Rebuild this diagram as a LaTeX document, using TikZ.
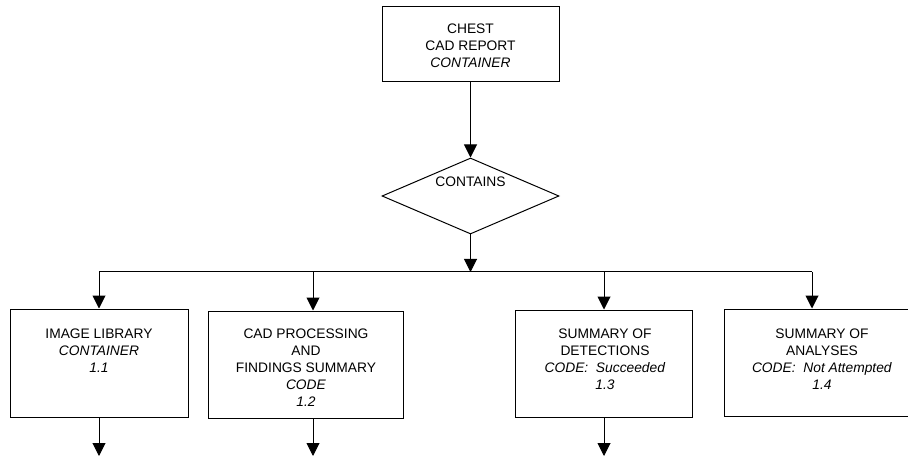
\documentclass[tikz,border=0pt]{standalone}
\usepackage{fontspec}
\setmainfont{Liberation Sans}
\usetikzlibrary{arrows.meta,shapes.geometric}
\begin{document}
\begin{tikzpicture}[x=1pt,y=-1pt,line width=1pt,
  box/.style={draw,rectangle,inner sep=0pt},
  txt/.style={align=center,inner sep=0pt,anchor=north,font=\fontsize{13.8}{17}\selectfont},
  arr/.style={-{Triangle[width=13pt,length=13pt]}}]
\useasboundingbox (0,0) rectangle (908,457);
\clip (0,0) rectangle (908,457);
% top box
\node[box,minimum width=177pt,minimum height=75pt] (top) at (470.5,44.5) {};
\node[txt] (toptxt) at (470.5,23) {CHEST\\CAD REPORT\\\textit{CONTAINER}};
% diamond
\node[draw,diamond,inner sep=0pt,minimum width=177pt,minimum height=76pt] (dia) at (470.5,196) {};
\node[txt] (diatxt) at (470.5,176) {CONTAINS};
% boxes
\node[box,minimum width=178pt,minimum height=108pt] (b1) at (99,363) {};
\node[box,minimum width=195pt,minimum height=107pt] (b2) at (305.5,364.5) {};
\node[box,minimum width=177pt,minimum height=107pt] (b3) at (603.5,363.5) {};
\node[box,minimum width=196pt,minimum height=107pt] (b4) at (822,362.5) {};
\node[txt] (t1) at (99,328) {IMAGE LIBRARY\\\textit{CONTAINER}\\\textit{1.1}};
\node[txt] (t2) at (306,328) {CAD PROCESSING\\AND\\FINDINGS SUMMARY\\\textit{CODE}\\\textit{1.2}};
\node[txt] (t3) at (605,328) {SUMMARY OF\\DETECTIONS\\\textit{CODE:\ \ Succeeded}\\\textit{1.3}};
\node[txt] (t4) at (822,328) {SUMMARY OF\\ANALYSES\\\textit{CODE:\ \ Not Attempted}\\\textit{1.4}};
% bar coordinates
\coordinate (j1) at (99,272);
\coordinate (j2) at (313,272);
\coordinate (j3) at (604,272);
\coordinate (j4) at (812,272);
\coordinate (jc) at (470.5,272);
\coordinate (e1) at (99,456);
\coordinate (e2) at (313,456);
\coordinate (e3) at (604,456);
% connectors
\draw[arr] (top.south) -- (dia.north);
\draw[arr] (dia.south) -- (jc);
\draw (j1) -- (j4);
\draw[arr] (j1) -- (j1 |- b1.north);
\draw[arr] (j2) -- (j2 |- b2.north);
\draw[arr] (j3) -- (j3 |- b3.north);
\draw[arr] (j4) -- (j4 |- b4.north);
\draw[arr] (e1 |- b1.south) -- (e1);
\draw[arr] (e2 |- b2.south) -- (e2);
\draw[arr] (e3 |- b3.south) -- (e3);
\end{tikzpicture}
\end{document}
